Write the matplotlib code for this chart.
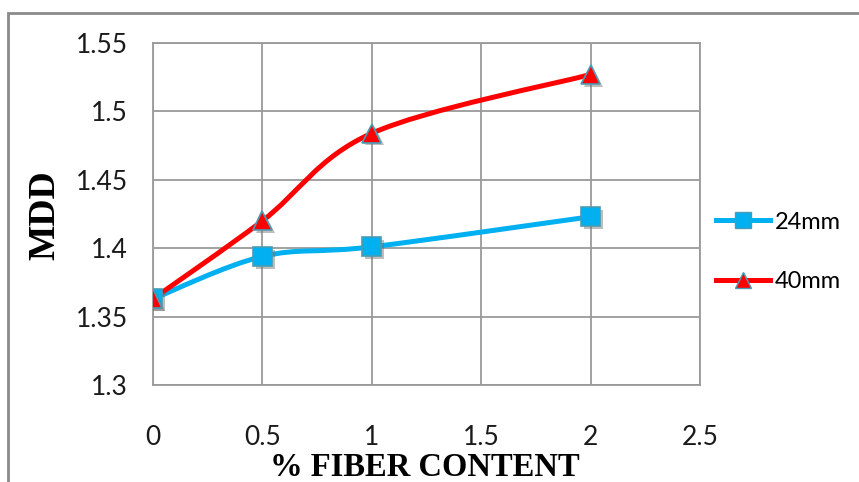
import matplotlib
matplotlib.use('agg')
import numpy as np
import matplotlib.pyplot as plt
import matplotlib.patheffects as pe
from matplotlib.path import Path
from matplotlib.patches import PathPatch, Rectangle
from matplotlib.lines import Line2D

# fibre content (%) and maximum dry density for the two fibre lengths
fiber = [0, 0.5, 1, 2]
mdd_24mm = [1.363, 1.394, 1.401, 1.423]
mdd_40mm = [1.363, 1.420, 1.484, 1.527]
x_ticks = [0, 0.5, 1, 1.5, 2, 2.5]
y_ticks = [1.3, 1.35, 1.4, 1.45, 1.5, 1.55]
y_labels = ['1.3', '1.35', '1.4', '1.45', '1.5', '1.55']
x_labels = ['0', '0.5', '1', '1.5', '2', '2.5']

C24 = '#00b0f0'
C40 = '#ff0000'
EDGE = '#4a9cb4'
GRID = '#9a9a9a'
TICK_FONT = 'Lato'
TITLE_FONT = 'Liberation Serif'


def smooth_path(xs, ys):
    # bezier through the points, tangents from neighbouring points
    pts = np.column_stack([xs, ys]).astype(float)
    n = len(pts)
    verts = [pts[0]]
    codes = [Path.MOVETO]
    for i in range(n - 1):
        p0 = pts[max(i - 1, 0)]
        p1 = pts[i]
        p2 = pts[i + 1]
        p3 = pts[min(i + 2, n - 1)]
        c1 = p1 + (p2 - p0) / 6.0
        c2 = p2 - (p3 - p1) / 6.0
        verts += [c1, c2, p2]
        codes += [Path.CURVE4] * 3
    return Path(verts, codes)


fig = plt.figure(figsize=(8.59, 4.82), dpi=100)
ax = fig.add_axes([153 / 859, 1 - 385 / 482, 547 / 859, 342 / 482])

shadow = [pe.SimplePatchShadow(offset=(2, -2), shadow_rgbFace='#707070', alpha=0.45), pe.Normal()]

for ys, col in [(mdd_24mm, C24), (mdd_40mm, C40)]:
    ax.add_patch(PathPatch(smooth_path(fiber, ys), fill=False, edgecolor=col,
                           lw=3.6, capstyle='round', joinstyle='round', zorder=3))

ax.plot(fiber, mdd_24mm, ls='none', marker='s', ms=13.5, mfc=C24, mec=EDGE, mew=1.2,
        zorder=4, path_effects=shadow)
ax.plot(fiber, mdd_40mm, ls='none', marker='^', ms=13.5, mfc=C40, mec=EDGE, mew=1.2,
        zorder=5, path_effects=shadow)

ax.set_xlim(0, 2.5)
ax.set_ylim(1.3, 1.55)
ax.set_xticks(x_ticks)
ax.set_xticklabels(x_labels, fontfamily=TICK_FONT, fontsize=19)
ax.set_yticks(y_ticks)
ax.set_yticklabels(y_labels, fontfamily=TICK_FONT, fontsize=19)
ax.tick_params(axis='x', length=0, pad=29, colors='#1a1a1a')
ax.tick_params(axis='y', length=0, pad=18, colors='#1a1a1a')
ax.grid(True, color=GRID, lw=1.3)
ax.set_axisbelow(True)
for s in ax.spines.values():
    s.set_color(GRID)
    s.set_linewidth(1.3)

fig.text(425 / 859, 1 - 467 / 482, '% FIBER CONTENT', ha='center', va='center',
         fontfamily=TITLE_FONT, fontweight='bold', fontsize=23.5)
fig.text(45 / 859, 1 - 215 / 482, 'MDD', ha='center', va='center', rotation=90,
         fontfamily=TITLE_FONT, fontweight='bold', fontsize=27)

handles = [
    Line2D([], [], color=C24, lw=3.6, marker='s', ms=12, mfc=C24, mec=EDGE, mew=1.0),
    Line2D([], [], color=C40, lw=3.6, marker='^', ms=12, mfc=C40, mec=EDGE, mew=1.0),
]
fig.legend(handles, ['24mm', '40mm'], loc='center left', bbox_to_anchor=(716 / 859, 1 - 252 / 482),
           frameon=False, borderpad=0, borderaxespad=0, handlelength=2.3,
           handletextpad=0.2, labelspacing=1.65, prop={'family': TICK_FONT, 'size': 17})

# outer chart frame, only its top and left edges fall inside the image
fig.add_artist(Rectangle((8 / 859, -0.2), 1.2, 1.2 - 13 / 482,
                         transform=fig.transFigure, fill=False, edgecolor='#8a8a8a', lw=2))

fig.savefig('out.png', dpi=100)
